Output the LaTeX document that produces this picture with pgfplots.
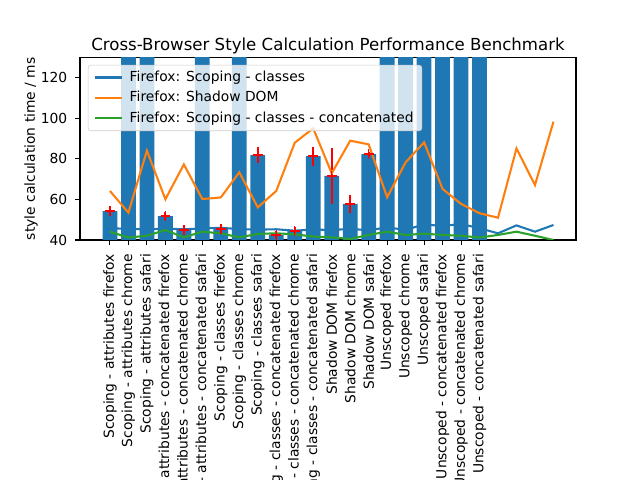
\documentclass[border=0pt]{standalone}
\usepackage{pgfplots}
\pgfplotsset{compat=1.18}
\usepackage{fontspec}
\setmainfont{DejaVu Sans}
\definecolor{tabblue}{HTML}{1F77B4}
\definecolor{taborange}{HTML}{FF7F0E}
\definecolor{tabgreen}{HTML}{2CA02C}
\definecolor{tabred}{HTML}{FF0000}

\begin{document}
\begin{tikzpicture}
% page frame of the figure (6.4in x 4.8in)
\path (0,0) rectangle (6.4in,4.8in);
\begin{axis}[
  at={(0.8in,2.4in)}, anchor=south west,
  scale only axis, width=4.96in, height=1.824in,
  xmin=-1.62, xmax=25.22, ymin=40, ymax=130,
  axis line style={line width=0.8pt},
  tick align=outside, major tick length=3.5pt,
  tick style={line width=0.8pt, black},
  xtick pos=left, ytick pos=left,
  xtick={0,...,20},
  ytick={40,60,80,100,120},
  xticklabels={
    Scoping - attributes firefox, Scoping - attributes chrome, Scoping - attributes safari,
    Scoping - attributes - concatenated firefox, Scoping - attributes - concatenated chrome, Scoping - attributes - concatenated safari,
    Scoping - classes firefox, Scoping - classes chrome, Scoping - classes safari,
    Scoping - classes - concatenated firefox, Scoping - classes - concatenated chrome, Scoping - classes - concatenated safari,
    Shadow DOM firefox, Shadow DOM chrome, Shadow DOM safari,
    Unscoped firefox, Unscoped chrome, Unscoped safari,
    Unscoped - concatenated firefox, Unscoped - concatenated chrome, Unscoped - concatenated safari},
  xticklabel style={rotate=90, anchor=east, inner sep=0pt, xshift=-6.5pt, overlay, font=\fontsize{10}{12}\selectfont},
  yticklabel style={anchor=east, inner sep=0pt, xshift=-5.5pt, font=\fontsize{10}{12}\selectfont},
  /pgf/number format/assume math mode=true,
  title={Cross-Browser Style Calculation Performance Benchmark},
  title style={at={(0.5,1)}, anchor=base, yshift=-1pt, inner sep=0pt, font=\fontsize{12}{14}\selectfont},
  ylabel={style calculation time / ms},
  ylabel style={at={(axis description cs:-0.0847,0.5)}, anchor=south, inner sep=0pt, font=\fontsize{10}{12}\selectfont},
  legend cell align=left,
  legend image code/.code={\draw[#1] (0pt,0pt) -- (20pt,0pt); \path (22.5pt,0pt);},
  legend style={at={(0.016,0.96)}, anchor=north west, draw=black!20, rounded corners=2pt,
    fill=white, fill opacity=0.8, text opacity=1, font=\fontsize{10}{12}\selectfont,
    row sep=1pt, inner xsep=4pt, inner ysep=2pt,
    nodes={inner sep=2pt, text height=7.5pt, text depth=2.3pt}},
]
% bars
\addplot[ybar, bar width=0.8, fill=tabblue, draw=none, forget plot] coordinates {
  (0,54.3) (1,210) (2,220) (3,51.8) (4,44.9) (5,205) (6,45.4) (7,215) (8,81.9)
  (9,42.5) (10,44.4) (11,81.4) (12,71.6) (13,57.8) (14,82.4) (15,190) (16,200)
  (17,230) (18,195) (19,205) (20,225)};
% error bars
\addplot[only marks, mark=+, tabred, mark size=3.5pt, mark options={line width=1pt}, forget plot,
  error bars/.cd, y dir=both, y explicit, error mark=none,
  error bar style={line width=1.5pt, tabred}] coordinates {
  (0,54.3) +- (0,1.9) (3,51.8) +- (0,1.9) (4,44.9) +- (0,1.8) (6,45.4) +- (0,2.0)
  (8,81.9) +- (0,4.0) (9,42.5) +- (0,1.9) (10,44.4) +- (0,1.8) (11,81.4) +- (0,4.7)
  (12,71.6) +- (0,13.8) (13,57.8) +- (0,4.3) (14,82.4) +- (0,1.2)};
% lines
\addplot[tabblue, line width=1.5pt] coordinates {
  (0,45.8) (1,45.5) (2,45.2) (3,45.6) (4,45.3) (5,45.7) (6,46.0) (7,45.4) (8,45.1)
  (9,45.3) (10,44.6) (11,45.2) (12,44.9) (13,45.5) (14,44.8) (15,46.2) (16,45.0)
  (17,47.7) (18,46.9) (19,47.9) (20,45.8) (21,43.3) (22,47.2) (23,44.1) (24,47.4)};
\addlegendentry{Firefox: Scoping - classes}
\addplot[taborange, line width=1.5pt] coordinates {
  (0,64.2) (1,53.5) (2,84.1) (3,60.1) (4,77.3) (5,60.2) (6,61.0) (7,73.4) (8,56.1)
  (9,64.2) (10,88.0) (11,95.1) (12,72.9) (13,89.0) (14,87.2) (15,61.1) (16,78.3)
  (17,88.2) (18,65.2) (19,57.8) (20,53.2) (21,51.0) (22,85.2) (23,67.1) (24,98.4)};
\addlegendentry{Firefox: Shadow DOM}
\addplot[tabgreen, line width=1.5pt] coordinates {
  (0,44.1) (1,41.2) (2,42.1) (3,44.9) (4,41.3) (5,44.1) (6,43.3) (7,41.3) (8,43.0)
  (9,43.3) (10,42.8) (11,41.7) (12,41.3) (13,40.5) (14,42.5) (15,44.1) (16,42.5)
  (17,43.1) (18,42.5) (19,42.1) (20,41.2) (21,42.5) (22,44.1) (23,42.1) (24,40.0)};
\addlegendentry{Firefox: Scoping - classes - concatenated}
\end{axis}
\end{tikzpicture}
\end{document}
